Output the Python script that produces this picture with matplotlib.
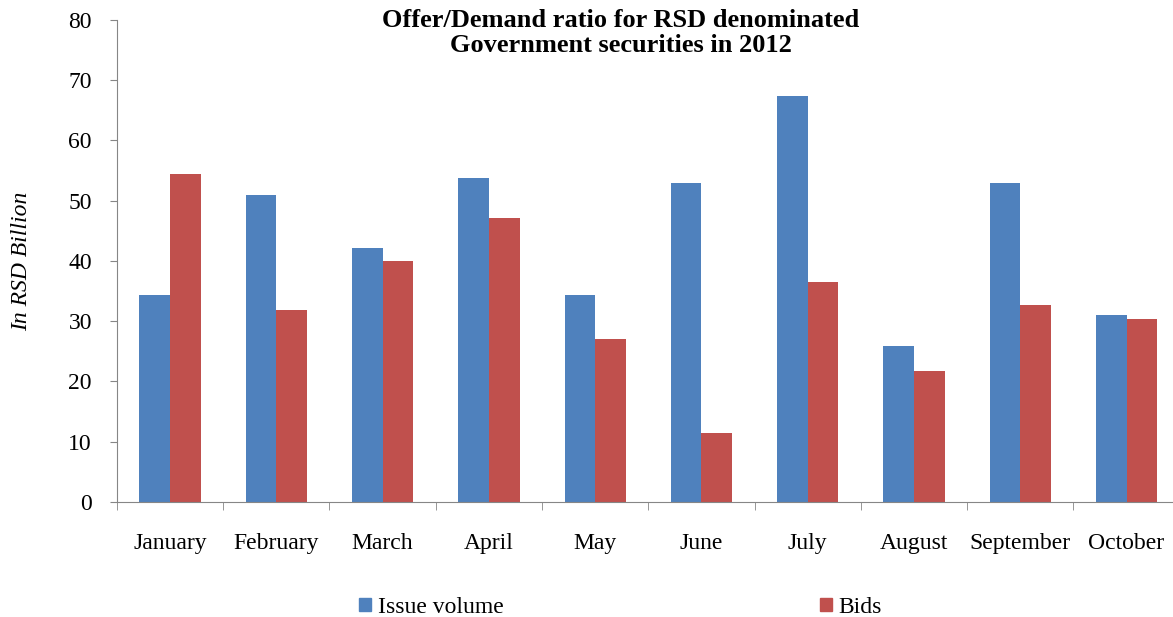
import numpy as np
import matplotlib.pyplot as plt
from matplotlib.patches import Patch

months = ["January", "February", "March", "April", "May", "June",
          "July", "August", "September", "October"]
issue_volume = [34.3, 51.0, 42.2, 53.8, 34.3, 52.9, 67.4, 25.9, 53.0, 31.0]
bids = [54.4, 31.8, 40.0, 47.2, 27.0, 11.4, 36.5, 21.7, 32.7, 30.4]

plt.rcParams["font.family"] = ["Liberation Serif", "DejaVu Serif"]

blue = "#4F81BD"
red = "#C0504D"
fs = 17

fig = plt.figure(figsize=(11.73, 6.17), dpi=100)
ax = fig.add_axes([0.0997, 0.1864, 0.906, 0.7812])

x = np.arange(len(months))
w = 0.288
ax.bar(x - w / 2, issue_volume, w, color=blue)
ax.bar(x + w / 2, bids, w, color=red)

ax.set_xlim(-0.5, 9.5)
ax.set_ylim(0, 80)
ax.set_yticks(range(0, 81, 10))
ax.set_xticks(x)
ax.set_xticklabels(months, fontsize=fs)
ax.set_xticks(np.arange(-0.5, 10, 1), minor=True)
ax.tick_params(axis="x", which="major", length=0, pad=22.5)
ax.tick_params(axis="x", which="minor", length=6, color="#868686")
ax.tick_params(axis="y", length=5, color="#868686", labelsize=fs, pad=13)

for s in ["top", "right"]:
    ax.spines[s].set_visible(False)
for s in ["left", "bottom"]:
    ax.spines[s].set_color("#868686")

fig.text(0.018, 0.577, "In RSD Billion", rotation=90, ha="center", va="center",
         fontsize=fs, style="italic")

fig.text(0.529, 0.9465, "Offer/Demand ratio for RSD denominated\nGovernment securities in 2012",
         ha="center", va="center", fontsize=19, fontweight="bold", linespacing=1.13)

handles = [Patch(color=blue, label="Issue volume"), Patch(color=red, label="Bids")]
fig.legend(handles=handles, loc="center", bbox_to_anchor=(0.529, 0.016), ncol=2,
           frameon=False, fontsize=fs, handlelength=0.5, handleheight=0.5,
           handletextpad=0.3, columnspacing=13.4, borderpad=0)

fig.savefig("out.png", dpi=100)
